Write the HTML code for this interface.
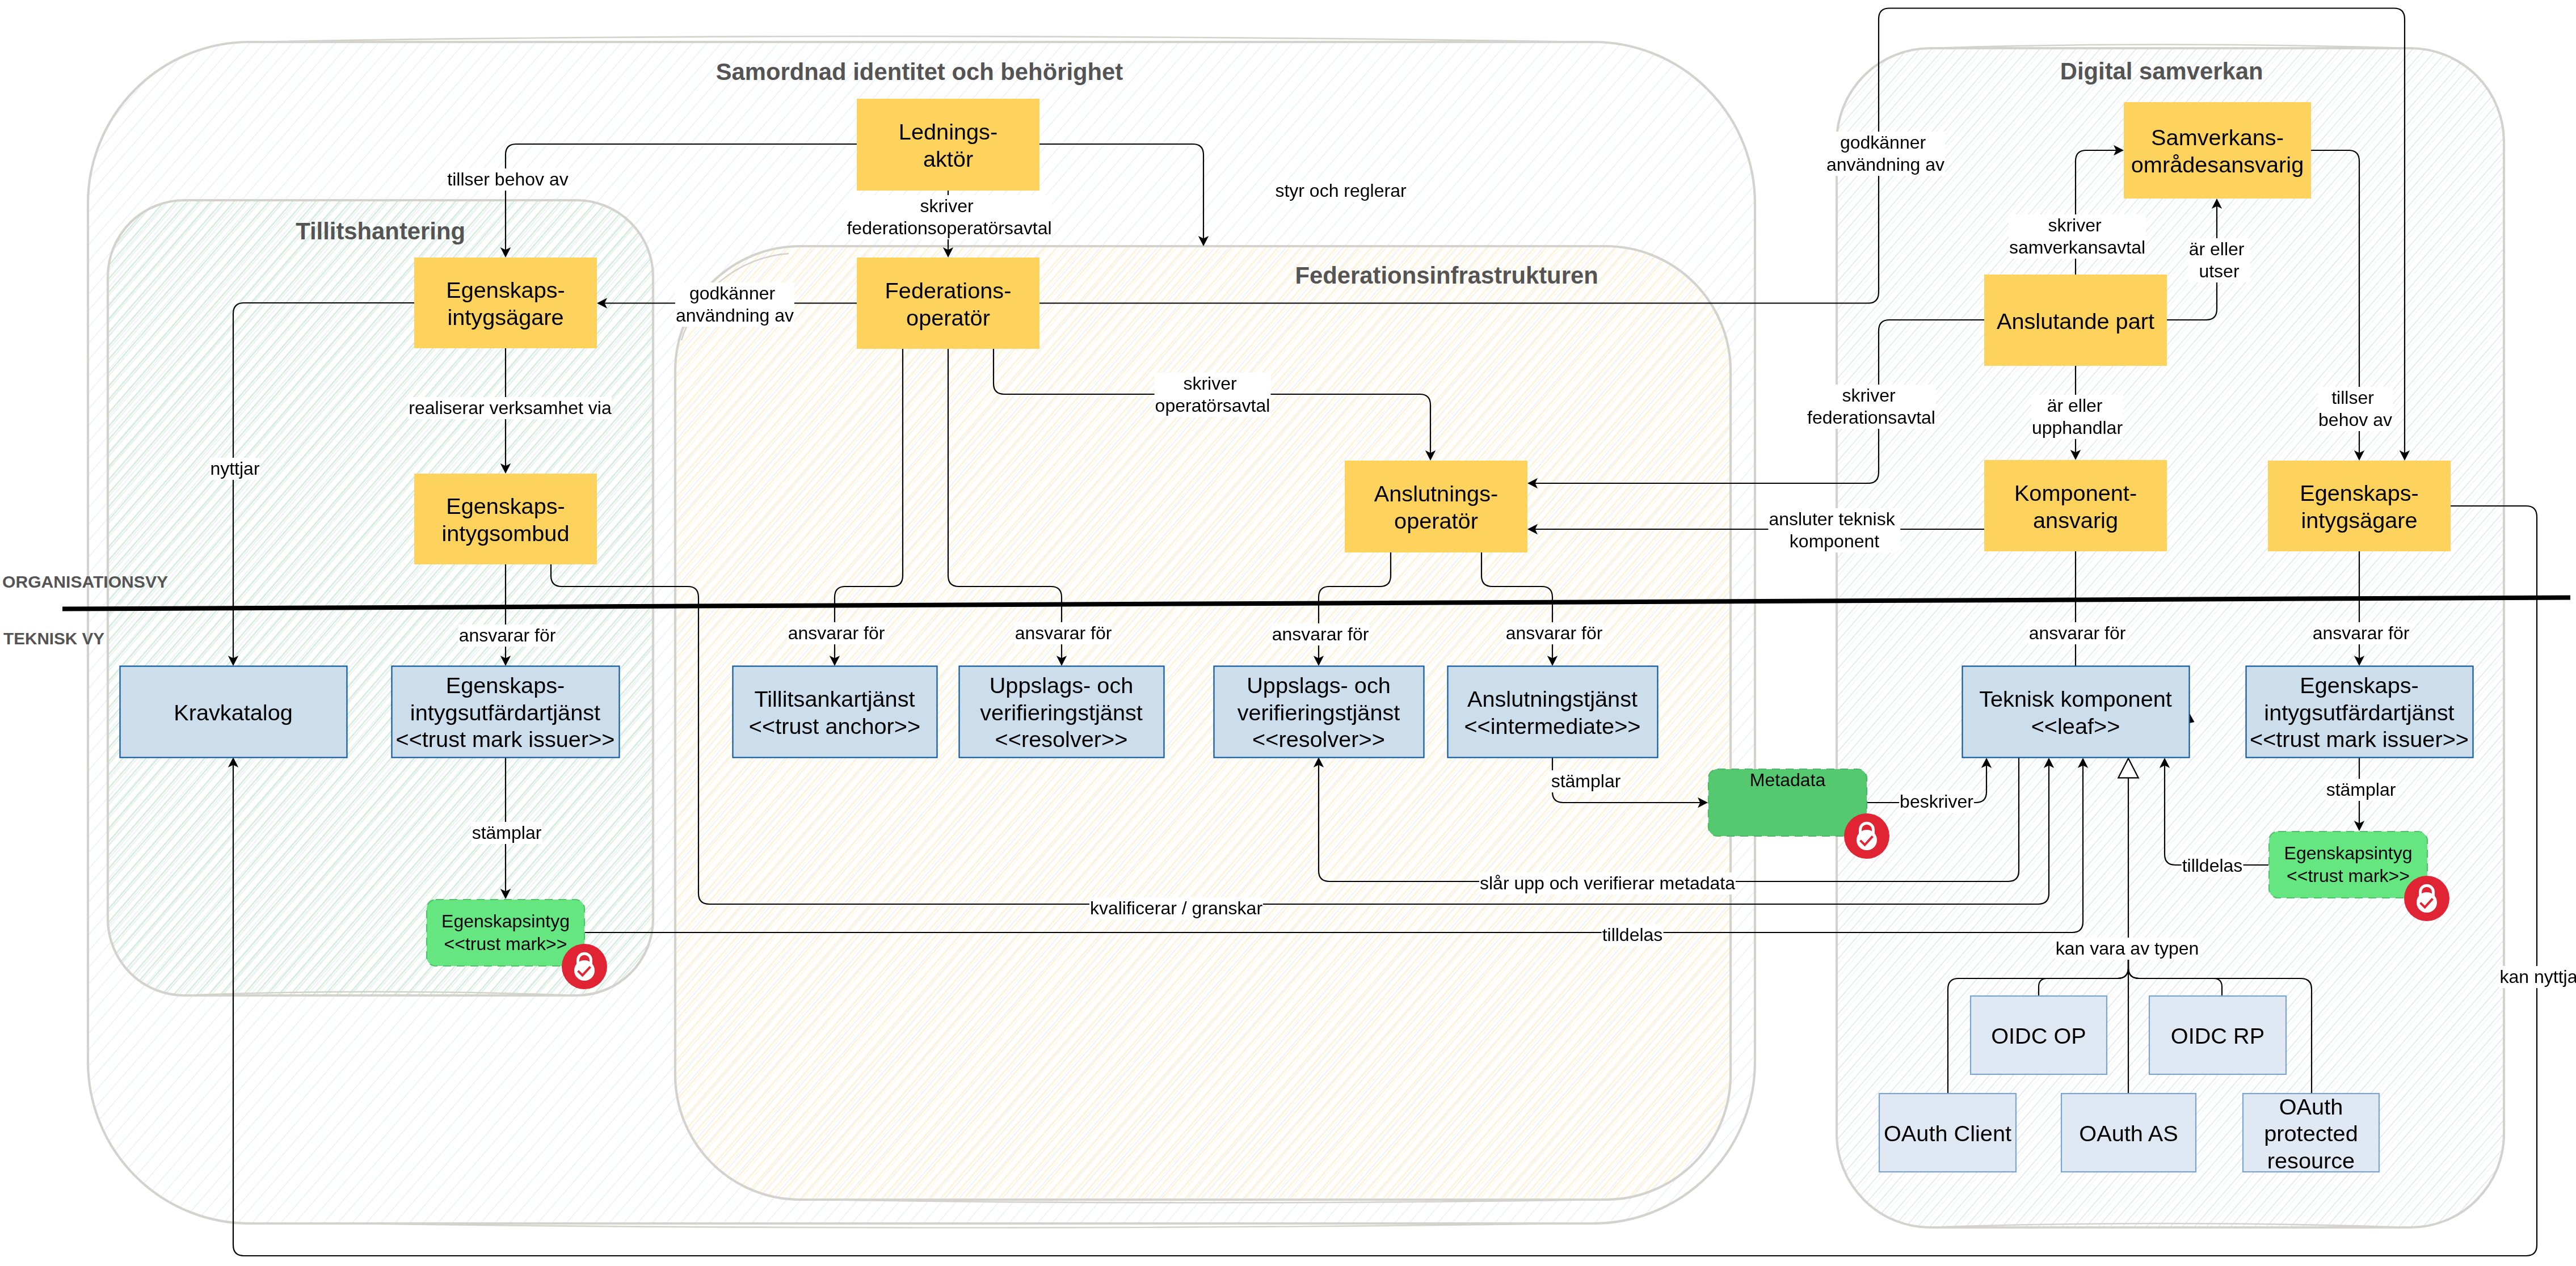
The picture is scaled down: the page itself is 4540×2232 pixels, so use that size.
<!DOCTYPE html>
<html><head><meta charset="utf-8"><style>
html,body{margin:0;padding:0;background:#fff;}
body{width:4540px;height:2232px;position:relative;overflow:hidden;font-family:"Liberation Sans", sans-serif;}
svg{position:absolute;left:0;top:0;}
.bx{position:absolute;text-align:center;color:#000;will-change:transform;}
.lb{position:absolute;transform:translateX(-50%);white-space:nowrap;text-align:center;color:#000;will-change:transform;}
.lb span{display:inline-block;background:#fff;padding:0 1px;}
</style></head><body>
<svg width="4540" height="2232" viewBox="0 0 4540 2232">
<defs><pattern id="hB" patternUnits="userSpaceOnUse" width="19" height="100" patternTransform="rotate(41)"><rect x="1" y="0" width="2.0" height="100" fill="#eef3fb" opacity="1"/><rect x="10" y="0" width="0.01" height="100" fill="#eef3fb" opacity="0.8"/></pattern><pattern id="hG" patternUnits="userSpaceOnUse" width="15.5" height="100" patternTransform="rotate(41)"><rect x="1" y="0" width="2.3" height="100" fill="#d2eadb" opacity="1"/><rect x="5.2" y="0" width="1.3" height="100" fill="#d2eadb" opacity="0.8"/></pattern><pattern id="hY" patternUnits="userSpaceOnUse" width="15.5" height="100" patternTransform="rotate(41)"><rect x="1" y="0" width="2.6" height="100" fill="#fef3d6" opacity="1"/><rect x="6.5" y="0" width="1.4" height="100" fill="#fef3d6" opacity="0.8"/></pattern><pattern id="hD" patternUnits="userSpaceOnUse" width="16" height="100" patternTransform="rotate(41)"><rect x="1" y="0" width="1.6" height="100" fill="#e2e6ed" opacity="1"/><rect x="7.0" y="0" width="0.7" height="100" fill="#e2e6ed" opacity="0.8"/></pattern></defs>
<rect x="155" y="74" width="2938" height="2083" rx="285" ry="285" fill="url(#hB)" stroke="none"/>
<rect x="155" y="74" width="2938" height="2083" rx="285" ry="285" fill="none" stroke="#d3d2cc" stroke-width="4.2"/>
<path d="M440,74 Q1500,54 2800,74" fill="none" stroke="#d3d2cc" stroke-width="2.6"/>
<path d="M600,2157 Q1700,2172 2780,2157" fill="none" stroke="#d3d2cc" stroke-width="2.6"/>
<rect x="3237" y="85" width="1176" height="2079" rx="165" ry="165" fill="url(#hD)" stroke="none"/>
<rect x="3237" y="85" width="1176" height="2079" rx="165" ry="165" fill="none" stroke="#d3d2cc" stroke-width="4.2"/>
<path d="M3400,85 Q3800,72 4250,85" fill="none" stroke="#d3d2cc" stroke-width="2.6"/>
<path d="M3390,2164 Q3800,2150 4250,2164" fill="none" stroke="#d3d2cc" stroke-width="2.6"/>
<rect x="190" y="353" width="961" height="1402" rx="135" ry="135" fill="url(#hG)" stroke="none"/>
<rect x="190" y="353" width="961" height="1402" rx="135" ry="135" fill="none" stroke="#d3d2cc" stroke-width="4.2"/>
<path d="M320,1755 Q650,1742 1020,1755" fill="none" stroke="#d3d2cc" stroke-width="2.6"/>
<rect x="1190" y="434" width="1860" height="1681" rx="220" ry="220" fill="url(#hY)" stroke="none"/>
<rect x="1190" y="434" width="1860" height="1681" rx="220" ry="220" fill="none" stroke="#d3d2cc" stroke-width="4.2"/>
<path d="M1440,2115 Q2100,2126 2830,2115" fill="none" stroke="#d3d2cc" stroke-width="2.6"/>
<path d="M1201,600 A214,214 0 0 1 1390,447" fill="none" stroke="#d3d2cc" stroke-width="2.6"/>
<text x="1620.5" y="141" text-anchor="middle" font-family='"Liberation Sans", sans-serif' font-weight="bold" font-size="41.8" fill="#545454">Samordnad identitet och behörighet</text>
<text x="670.6" y="421.8" text-anchor="middle" font-family='"Liberation Sans", sans-serif' font-weight="bold" font-size="41.8" fill="#545454">Tillitshantering</text>
<text x="2549.6" y="500.3" text-anchor="middle" font-family='"Liberation Sans", sans-serif' font-weight="bold" font-size="41.8" fill="#545454">Federationsinfrastrukturen</text>
<text x="3809.6" y="140.2" text-anchor="middle" font-family='"Liberation Sans", sans-serif' font-weight="bold" font-size="41.8" fill="#545454">Digital samverkan</text>
<text x="4" y="1036" font-family='"Liberation Sans", sans-serif' font-weight="bold" font-size="30.1" fill="#545454">ORGANISATIONSVY</text>
<text x="6" y="1136" font-family='"Liberation Sans", sans-serif' font-weight="bold" font-size="29.7" fill="#545454">TEKNISK VY</text>
<path d="M110,1073.6 L4530,1053.5" stroke="#000" stroke-width="8" fill="none"/>
<path d="M1510,254 L910.0,254.0 Q891,254 891.0,273.0 L891.0,446.0" fill="none" stroke="#000" stroke-width="2.2" stroke-linejoin="round"/>
<path d="M891,454 L881.8,436.0 L891.0,440.4 L900.2,436.0 Z" fill="#000"/>
<path d="M1832,254 L2102.0,254.0 Q2121,254 2121.0,273.0 L2121.0,426.0" fill="none" stroke="#000" stroke-width="2.2" stroke-linejoin="round"/>
<path d="M2121,434 L2111.8,416.0 L2121.0,420.4 L2130.2,416.0 Z" fill="#000"/>
<path d="M1671,336 L1671.0,446.0" fill="none" stroke="#000" stroke-width="2.2" stroke-linejoin="round"/>
<path d="M1671,454 L1661.8,436.0 L1671.0,440.4 L1680.2,436.0 Z" fill="#000"/>
<path d="M1510,534.5 L1060.0,534.5" fill="none" stroke="#000" stroke-width="2.2" stroke-linejoin="round"/>
<path d="M1052,534.5 L1070.0,525.3 L1065.6,534.5 L1070.0,543.7 Z" fill="#000"/>
<path d="M891,614 L891.0,827.0" fill="none" stroke="#000" stroke-width="2.2" stroke-linejoin="round"/>
<path d="M891,835 L881.8,817.0 L891.0,821.4 L900.2,817.0 Z" fill="#000"/>
<path d="M730,534 L430.0,534.0 Q411,534 411.0,553.0 L411.0,1166.0" fill="none" stroke="#000" stroke-width="2.2" stroke-linejoin="round"/>
<path d="M411,1174 L401.8,1156.0 L411.0,1160.4 L420.2,1156.0 Z" fill="#000"/>
<path d="M891,995 L891.0,1166.0" fill="none" stroke="#000" stroke-width="2.2" stroke-linejoin="round"/>
<path d="M891,1174 L881.8,1156.0 L891.0,1160.4 L900.2,1156.0 Z" fill="#000"/>
<path d="M891,1335 L891.0,1577.0" fill="none" stroke="#000" stroke-width="2.2" stroke-linejoin="round"/>
<path d="M891,1585 L881.8,1567.0 L891.0,1571.4 L900.2,1567.0 Z" fill="#000"/>
<path d="M971,995 L971.0,1015.0 Q971,1034 990.0,1034.0 L1212.0,1034.0 Q1231,1034 1231.0,1053.0 L1231.0,1575.0 Q1231,1594 1250.0,1594.0 L3592.0,1594.0 Q3611,1594 3611.0,1575.0 L3611.0,1344.0" fill="none" stroke="#000" stroke-width="2.2" stroke-linejoin="round"/>
<path d="M3611,1336 L3620.2,1354.0 L3611.0,1349.6 L3601.8,1354.0 Z" fill="#000"/>
<path d="M1031,1644 L3652.0,1644.0 Q3671,1644 3671.0,1625.0 L3671.0,1344.0" fill="none" stroke="#000" stroke-width="2.2" stroke-linejoin="round"/>
<path d="M3671,1336 L3680.2,1354.0 L3671.0,1349.6 L3661.8,1354.0 Z" fill="#000"/>
<path d="M4319,892 L4452.0,892.0 Q4471,892 4471.0,911.0 L4471.0,2195.0 Q4471,2214 4452.0,2214.0 L430.0,2214.0 Q411,2214 411.0,2195.0 L411.0,1343.0" fill="none" stroke="#000" stroke-width="2.2" stroke-linejoin="round"/>
<path d="M411,1335 L420.2,1353.0 L411.0,1348.6 L401.8,1353.0 Z" fill="#000"/>
<path d="M1591,615 L1591.0,1015.0 Q1591,1034 1572.0,1034.0 L1490.0,1034.0 Q1471,1034 1471.0,1053.0 L1471.0,1166.0" fill="none" stroke="#000" stroke-width="2.2" stroke-linejoin="round"/>
<path d="M1471,1174 L1461.8,1156.0 L1471.0,1160.4 L1480.2,1156.0 Z" fill="#000"/>
<path d="M1671,615 L1671.0,1015.0 Q1671,1034 1690.0,1034.0 L1852.0,1034.0 Q1871,1034 1871.0,1053.0 L1871.0,1166.0" fill="none" stroke="#000" stroke-width="2.2" stroke-linejoin="round"/>
<path d="M1871,1174 L1861.8,1156.0 L1871.0,1160.4 L1880.2,1156.0 Z" fill="#000"/>
<path d="M1751,615 L1751.0,676.0 Q1751,695 1770.0,695.0 L2502.0,695.0 Q2521,695 2521.0,714.0 L2521.0,804.0" fill="none" stroke="#000" stroke-width="2.2" stroke-linejoin="round"/>
<path d="M2521,812 L2511.8,794.0 L2521.0,798.4 L2530.2,794.0 Z" fill="#000"/>
<path d="M1832,534.5 L3292.0,534.5 Q3311,534.5 3311.0,515.5 L3311.0,33.5 Q3311,14.5 3330.0,14.5 L4219.0,14.5 Q4238,14.5 4238.0,33.5 L4238.0,804.0" fill="none" stroke="#000" stroke-width="2.2" stroke-linejoin="round"/>
<path d="M4238,812 L4228.8,794.0 L4238.0,798.4 L4247.2,794.0 Z" fill="#000"/>
<path d="M2451,974 L2451.0,1015.0 Q2451,1034 2432.0,1034.0 L2343.0,1034.0 Q2324,1034 2324.0,1053.0 L2324.0,1166.0" fill="none" stroke="#000" stroke-width="2.2" stroke-linejoin="round"/>
<path d="M2324,1174 L2314.8,1156.0 L2324.0,1160.4 L2333.2,1156.0 Z" fill="#000"/>
<path d="M2611,974 L2611.0,1015.0 Q2611,1034 2630.0,1034.0 L2717.0,1034.0 Q2736,1034 2736.0,1053.0 L2736.0,1166.0" fill="none" stroke="#000" stroke-width="2.2" stroke-linejoin="round"/>
<path d="M2736,1174 L2726.8,1156.0 L2736.0,1160.4 L2745.2,1156.0 Z" fill="#000"/>
<path d="M2736,1335 L2736.0,1396.0 Q2736,1415 2755.0,1415.0 L3002.0,1415.0" fill="none" stroke="#000" stroke-width="2.2" stroke-linejoin="round"/>
<path d="M3010,1415 L2992.0,1424.2 L2996.4,1415.0 L2992.0,1405.8 Z" fill="#000"/>
<path d="M3291,1415 L3482.0,1415.0 Q3501,1415 3501.0,1396.0 L3501.0,1344.0" fill="none" stroke="#000" stroke-width="2.2" stroke-linejoin="round"/>
<path d="M3501,1336 L3510.2,1354.0 L3501.0,1349.6 L3491.8,1354.0 Z" fill="#000"/>
<path d="M3558,1335 L3558.0,1535.0 Q3558,1554 3539.0,1554.0 L2343.0,1554.0 Q2324,1554 2324.0,1535.0 L2324.0,1343.0" fill="none" stroke="#000" stroke-width="2.2" stroke-linejoin="round"/>
<path d="M2324,1335 L2333.2,1353.0 L2324.0,1348.6 L2314.8,1353.0 Z" fill="#000"/>
<path d="M3658,972 L3658,1174" fill="none" stroke="#000" stroke-width="2.2" stroke-linejoin="round"/>
<path d="M3497,933 L2700.0,933.0" fill="none" stroke="#000" stroke-width="2.2" stroke-linejoin="round"/>
<path d="M2692,933 L2710.0,923.8 L2705.6,933.0 L2710.0,942.2 Z" fill="#000"/>
<path d="M3658,645 L3658.0,803.0" fill="none" stroke="#000" stroke-width="2.2" stroke-linejoin="round"/>
<path d="M3658,811 L3648.8,793.0 L3658.0,797.4 L3667.2,793.0 Z" fill="#000"/>
<path d="M3658,484 L3658.0,284.0 Q3658,265 3677.0,265.0 L3735.0,265.0" fill="none" stroke="#000" stroke-width="2.2" stroke-linejoin="round"/>
<path d="M3743,265 L3725.0,274.2 L3729.4,265.0 L3725.0,255.8 Z" fill="#000"/>
<path d="M3819,564 L3888.0,564.0 Q3907,564 3907.0,545.0 L3907.0,358.0" fill="none" stroke="#000" stroke-width="2.2" stroke-linejoin="round"/>
<path d="M3907,350 L3916.2,368.0 L3907.0,363.6 L3897.8,368.0 Z" fill="#000"/>
<path d="M3497,564 L3330.0,564.0 Q3311,564 3311.0,583.0 L3311.0,833.0 Q3311,852 3292.0,852.0 L2700.0,852.0" fill="none" stroke="#000" stroke-width="2.2" stroke-linejoin="round"/>
<path d="M2692,852 L2710.0,842.8 L2705.6,852.0 L2710.0,861.2 Z" fill="#000"/>
<path d="M4073,265 L4139.0,265.0 Q4158,265 4158.0,284.0 L4158.0,804.0" fill="none" stroke="#000" stroke-width="2.2" stroke-linejoin="round"/>
<path d="M4158,812 L4148.8,794.0 L4158.0,798.4 L4167.2,794.0 Z" fill="#000"/>
<path d="M4158,972 L4158.0,1166.0" fill="none" stroke="#000" stroke-width="2.2" stroke-linejoin="round"/>
<path d="M4158,1174 L4148.8,1156.0 L4158.0,1160.4 L4167.2,1156.0 Z" fill="#000"/>
<path d="M4158,1335 L4158.0,1457.0" fill="none" stroke="#000" stroke-width="2.2" stroke-linejoin="round"/>
<path d="M4158,1465 L4148.8,1447.0 L4158.0,1451.4 L4167.2,1447.0 Z" fill="#000"/>
<path d="M3998,1525 L3834.0,1525.0 Q3815,1525 3815.0,1506.0 L3815.0,1344.0" fill="none" stroke="#000" stroke-width="2.2" stroke-linejoin="round"/>
<path d="M3815,1336 L3824.2,1354.0 L3815.0,1349.6 L3805.8,1354.0 Z" fill="#000"/>
<path d="M3751,1371 L3751,1927" stroke="#000" stroke-width="2.2" fill="none"/>
<path d="M3751,1660 L3751.0,1706.0 Q3751,1725 3732.0,1725.0 L3452.0,1725.0 Q3433,1725 3433.0,1744.0 L3433,1927" fill="none" stroke="#000" stroke-width="2.2" stroke-linejoin="round"/>
<path d="M3751,1660 L3751.0,1706.0 Q3751,1725 3732.0,1725.0 L3608.0,1725.0 Q3593,1725 3593.0,1740.0 L3593,1755" fill="none" stroke="#000" stroke-width="2.2" stroke-linejoin="round"/>
<path d="M3751,1660 L3751.0,1706.0 Q3751,1725 3770.0,1725.0 L3901.0,1725.0 Q3916,1725 3916.0,1740.0 L3916,1755" fill="none" stroke="#000" stroke-width="2.2" stroke-linejoin="round"/>
<path d="M3751,1660 L3751.0,1706.0 Q3751,1725 3770.0,1725.0 L4055.0,1725.0 Q4074,1725 4074.0,1744.0 L4074,1927" fill="none" stroke="#000" stroke-width="2.2" stroke-linejoin="round"/>
<path d="M3751,1337 L3733.3,1371.4 L3768.7,1371.4 Z" fill="#fff" stroke="#000" stroke-width="2.2"/>
<path d="M3858,1256 L3867.5,1273 L3858,1275 Z" fill="#000"/>
<rect x="1510" y="174" width="322" height="162" fill="#fdd35e"/><rect x="1510" y="454" width="322" height="161" fill="#fdd35e"/><rect x="730" y="454" width="322" height="160" fill="#fdd35e"/><rect x="730" y="835" width="322" height="160" fill="#fdd35e"/><rect x="2370" y="812" width="322" height="162" fill="#fdd35e"/><rect x="3743" y="180" width="330" height="170" fill="#fdd35e"/><rect x="3497" y="484" width="322" height="161" fill="#fdd35e"/><rect x="3497" y="811" width="322" height="161" fill="#fdd35e"/><rect x="3997" y="812" width="322" height="160" fill="#fdd35e"/><rect x="211.5" y="1174.5" width="400" height="161" fill="#ccdeec" stroke="#0f5a9e" stroke-width="2.2"/><rect x="690.5" y="1174.5" width="401" height="161" fill="#ccdeec" stroke="#0f5a9e" stroke-width="2.2"/><rect x="1291.5" y="1174.5" width="360" height="161" fill="#ccdeec" stroke="#0f5a9e" stroke-width="2.2"/><rect x="1690.5" y="1174.5" width="361" height="161" fill="#ccdeec" stroke="#0f5a9e" stroke-width="2.2"/><rect x="2139.5" y="1174.5" width="370" height="161" fill="#ccdeec" stroke="#0f5a9e" stroke-width="2.2"/><rect x="2551.5" y="1174.5" width="370" height="161" fill="#ccdeec" stroke="#0f5a9e" stroke-width="2.2"/><rect x="3458.5" y="1174.5" width="400" height="161" fill="#ccdeec" stroke="#0f5a9e" stroke-width="2.2"/><rect x="3958.5" y="1174.5" width="400" height="161" fill="#ccdeec" stroke="#0f5a9e" stroke-width="2.2"/><rect x="3473" y="1756" width="240" height="138" fill="#e0e9f3" stroke="#7aa3cf" stroke-width="2.2"/><rect x="3474" y="1757" width="238" height="136" fill="url(#hD)" opacity="0.5"/><rect x="3788" y="1756" width="241" height="138" fill="#e0e9f3" stroke="#7aa3cf" stroke-width="2.2"/><rect x="3789" y="1757" width="239" height="136" fill="url(#hD)" opacity="0.5"/><rect x="3312" y="1928" width="241" height="138" fill="#e0e9f3" stroke="#7aa3cf" stroke-width="2.2"/><rect x="3313" y="1929" width="239" height="136" fill="url(#hD)" opacity="0.5"/><rect x="3633" y="1928" width="237" height="138" fill="#e0e9f3" stroke="#7aa3cf" stroke-width="2.2"/><rect x="3634" y="1929" width="235" height="136" fill="url(#hD)" opacity="0.5"/><rect x="3953" y="1928" width="240" height="138" fill="#e0e9f3" stroke="#7aa3cf" stroke-width="2.2"/><rect x="3954" y="1929" width="238" height="136" fill="url(#hD)" opacity="0.5"/><rect x="752" y="1586" width="278" height="117" rx="16" fill="#65e681" stroke="#4fc36a" stroke-width="2.2" stroke-dasharray="14 10"/><rect x="3999" y="1466" width="279" height="117" rx="16" fill="#65e681" stroke="#4fc36a" stroke-width="2.2" stroke-dasharray="14 10"/><rect x="3011" y="1356" width="279" height="118" rx="16" fill="#55c970" stroke="#4ab865" stroke-width="2.2" stroke-dasharray="14 10"/>
<g transform="translate(1030,1704)"><circle r="40" fill="#e02433"/><path d="M-11.5,-4 V-11.3 A11.5,11.5 0 0 1 11.5,-11.3 V-4" fill="none" stroke="#fff" stroke-width="5"/><circle cx="0" cy="7" r="18" fill="#fff"/><path d="M-11.4,7.7 L-3.5,15.5 L10.4,0.3" fill="none" stroke="#e02433" stroke-width="4"/></g>
<g transform="translate(3290,1474)"><circle r="40" fill="#e02433"/><path d="M-11.5,-4 V-11.3 A11.5,11.5 0 0 1 11.5,-11.3 V-4" fill="none" stroke="#fff" stroke-width="5"/><circle cx="0" cy="7" r="18" fill="#fff"/><path d="M-11.4,7.7 L-3.5,15.5 L10.4,0.3" fill="none" stroke="#e02433" stroke-width="4"/></g>
<g transform="translate(4277,1584)"><circle r="40" fill="#e02433"/><path d="M-11.5,-4 V-11.3 A11.5,11.5 0 0 1 11.5,-11.3 V-4" fill="none" stroke="#fff" stroke-width="5"/><circle cx="0" cy="7" r="18" fill="#fff"/><path d="M-11.4,7.7 L-3.5,15.5 L10.4,0.3" fill="none" stroke="#e02433" stroke-width="4"/></g>
</svg>
<div class="bx" style="left:1510px;top:176px;width:322px;height:162px;font-size:39.7px;line-height:47.64px;display:flex;align-items:center;justify-content:center;"><div>Lednings-<br>aktör</div></div>
<div class="bx" style="left:1510px;top:456px;width:322px;height:161px;font-size:39.7px;line-height:47.64px;display:flex;align-items:center;justify-content:center;"><div>Federations-<br>operatör</div></div>
<div class="bx" style="left:730px;top:456px;width:322px;height:160px;font-size:39.7px;line-height:47.64px;display:flex;align-items:center;justify-content:center;"><div>Egenskaps-<br>intygsägare</div></div>
<div class="bx" style="left:730px;top:837px;width:322px;height:160px;font-size:39.7px;line-height:47.64px;display:flex;align-items:center;justify-content:center;"><div>Egenskaps-<br>intygsombud</div></div>
<div class="bx" style="left:2370px;top:814px;width:322px;height:162px;font-size:39.7px;line-height:47.64px;display:flex;align-items:center;justify-content:center;"><div>Anslutnings-<br>operatör</div></div>
<div class="bx" style="left:3743px;top:182px;width:330px;height:170px;font-size:39.7px;line-height:47.64px;display:flex;align-items:center;justify-content:center;"><div>Samverkans-<br>områdesansvarig</div></div>
<div class="bx" style="left:3497px;top:486px;width:322px;height:161px;font-size:39.7px;line-height:47.64px;display:flex;align-items:center;justify-content:center;"><div>Anslutande part</div></div>
<div class="bx" style="left:3497px;top:813px;width:322px;height:161px;font-size:39.7px;line-height:47.64px;display:flex;align-items:center;justify-content:center;"><div>Komponent-<br>ansvarig</div></div>
<div class="bx" style="left:3997px;top:814px;width:322px;height:160px;font-size:39.7px;line-height:47.64px;display:flex;align-items:center;justify-content:center;"><div>Egenskaps-<br>intygsägare</div></div>
<div class="bx" style="left:211px;top:1176px;width:400px;height:161px;font-size:39.7px;line-height:47.64px;display:flex;align-items:center;justify-content:center;"><div>Kravkatalog</div></div>
<div class="bx" style="left:690px;top:1176px;width:401px;height:161px;font-size:39.7px;line-height:47.64px;display:flex;align-items:center;justify-content:center;"><div>Egenskaps-<br>intygsutfärdartjänst<br>&lt;&lt;trust mark issuer&gt;&gt;</div></div>
<div class="bx" style="left:1291px;top:1176px;width:360px;height:161px;font-size:39.7px;line-height:47.64px;display:flex;align-items:center;justify-content:center;"><div>Tillitsankartjänst<br>&lt;&lt;trust anchor&gt;&gt;</div></div>
<div class="bx" style="left:1690px;top:1176px;width:361px;height:161px;font-size:39.7px;line-height:47.64px;display:flex;align-items:center;justify-content:center;"><div>Uppslags- och<br>verifieringstjänst<br>&lt;&lt;resolver&gt;&gt;</div></div>
<div class="bx" style="left:2139px;top:1176px;width:370px;height:161px;font-size:39.7px;line-height:47.64px;display:flex;align-items:center;justify-content:center;"><div>Uppslags- och<br>verifieringstjänst<br>&lt;&lt;resolver&gt;&gt;</div></div>
<div class="bx" style="left:2551px;top:1176px;width:370px;height:161px;font-size:39.7px;line-height:47.64px;display:flex;align-items:center;justify-content:center;"><div>Anslutningstjänst<br>&lt;&lt;intermediate&gt;&gt;</div></div>
<div class="bx" style="left:3458px;top:1176px;width:400px;height:161px;font-size:39.7px;line-height:47.64px;display:flex;align-items:center;justify-content:center;"><div>Teknisk komponent<br>&lt;&lt;leaf&gt;&gt;</div></div>
<div class="bx" style="left:3958px;top:1176px;width:400px;height:161px;font-size:39.7px;line-height:47.64px;display:flex;align-items:center;justify-content:center;"><div>Egenskaps-<br>intygsutfärdartjänst<br>&lt;&lt;trust mark issuer&gt;&gt;</div></div>
<div class="bx" style="left:3472px;top:1757px;width:242px;height:140px;font-size:39.7px;line-height:47.64px;display:flex;align-items:center;justify-content:center;"><div>OIDC OP</div></div>
<div class="bx" style="left:3787px;top:1757px;width:243px;height:140px;font-size:39.7px;line-height:47.64px;display:flex;align-items:center;justify-content:center;"><div>OIDC RP</div></div>
<div class="bx" style="left:3311px;top:1929px;width:243px;height:140px;font-size:39.7px;line-height:47.64px;display:flex;align-items:center;justify-content:center;"><div>OAuth Client</div></div>
<div class="bx" style="left:3632px;top:1929px;width:239px;height:140px;font-size:39.7px;line-height:47.64px;display:flex;align-items:center;justify-content:center;"><div>OAuth AS</div></div>
<div class="bx" style="left:3952px;top:1929px;width:242px;height:140px;font-size:39.7px;line-height:47.64px;display:flex;align-items:center;justify-content:center;"><div>OAuth<br>protected<br>resource</div></div>
<div class="bx" style="left:751px;top:1585px;width:280px;height:119px;font-size:32px;line-height:39.2px;display:flex;align-items:center;justify-content:center;"><div>Egenskapsintyg<br>&lt;&lt;trust mark&gt;&gt;</div></div>
<div class="bx" style="left:3998px;top:1465px;width:281px;height:119px;font-size:32px;line-height:39.2px;display:flex;align-items:center;justify-content:center;"><div>Egenskapsintyg<br>&lt;&lt;trust mark&gt;&gt;</div></div>
<div class="bx" style="left:3010px;top:1356px;width:281px;height:120px;font-size:32px;line-height:39.2px;display:flex;align-items:flex-start;justify-content:center;"><div>Metadata</div></div>
<div class="lb" style="left:895px;top:297.4px;font-size:32px;line-height:39.1px;"><span>tillser behov av</span></div>
<div class="lb" style="left:2363.4px;top:317.1px;font-size:32px;line-height:39.1px;"><span>styr och reglerar</span></div>
<div class="lb" style="left:1672.5px;top:343.7px;font-size:32px;line-height:39.1px;"><span>skriver&nbsp;<br>federationsoperatörsavtal</span></div>
<div class="lb" style="left:1295px;top:497.7px;font-size:32px;line-height:39.1px;"><span>godkänner&nbsp;<br>användning av</span></div>
<div class="lb" style="left:899px;top:699.5px;font-size:32px;line-height:39.1px;"><span>realiserar verksamhet via</span></div>
<div class="lb" style="left:413.8px;top:807.0px;font-size:32px;line-height:39.1px;"><span>nyttjar</span></div>
<div class="lb" style="left:894px;top:1101.2px;font-size:32px;line-height:39.1px;"><span>ansvarar för</span></div>
<div class="lb" style="left:892.7px;top:1449.2px;font-size:32px;line-height:39.1px;"><span>stämplar</span></div>
<div class="lb" style="left:2072.9px;top:1581.5px;font-size:32px;line-height:39.1px;"><span>kvalificerar / granskar</span></div>
<div class="lb" style="left:2876.9px;top:1629.4px;font-size:32px;line-height:39.1px;"><span>tilldelas</span></div>
<div class="lb" style="left:4474px;top:1703.2px;font-size:32px;line-height:39.1px;"><span>kan nyttja</span></div>
<div class="lb" style="left:1473.5px;top:1097.2px;font-size:32px;line-height:39.1px;"><span>ansvarar för</span></div>
<div class="lb" style="left:1873.5px;top:1097.2px;font-size:32px;line-height:39.1px;"><span>ansvarar för</span></div>
<div class="lb" style="left:2137px;top:657.4px;font-size:32px;line-height:39.1px;"><span>skriver&nbsp;<br>operatörsavtal</span></div>
<div class="lb" style="left:3323px;top:231.8px;font-size:32px;line-height:39.1px;"><span>godkänner&nbsp;<br>användning av</span></div>
<div class="lb" style="left:2327px;top:1099.2px;font-size:32px;line-height:39.1px;"><span>ansvarar för</span></div>
<div class="lb" style="left:2739px;top:1097.2px;font-size:32px;line-height:39.1px;"><span>ansvarar för</span></div>
<div class="lb" style="left:2795.4px;top:1357.5px;font-size:32px;line-height:39.1px;"><span>stämplar</span></div>
<div class="lb" style="left:3413.2px;top:1393.5px;font-size:32px;line-height:39.1px;"><span>beskriver</span></div>
<div class="lb" style="left:2833px;top:1537.5px;font-size:32px;line-height:39.1px;"><span>slår upp och verifierar metadata</span></div>
<div class="lb" style="left:3661px;top:1097.2px;font-size:32px;line-height:39.1px;"><span>ansvarar för</span></div>
<div class="lb" style="left:3232.5px;top:895.9px;font-size:32px;line-height:39.1px;"><span>ansluter teknisk&nbsp;<br>komponent</span></div>
<div class="lb" style="left:3660.9px;top:695.8px;font-size:32px;line-height:39.1px;"><span>är eller&nbsp;<br>upphandlar</span></div>
<div class="lb" style="left:3660.6px;top:377.9px;font-size:32px;line-height:39.1px;"><span>skriver&nbsp;<br>samverkansavtal</span></div>
<div class="lb" style="left:3911px;top:419.8px;font-size:32px;line-height:39.1px;"><span>är eller&nbsp;<br>utser</span></div>
<div class="lb" style="left:3298.3px;top:677.7px;font-size:32px;line-height:39.1px;"><span>skriver&nbsp;<br>federationsavtal</span></div>
<div class="lb" style="left:4151.1px;top:681.7px;font-size:32px;line-height:39.1px;"><span>tillser&nbsp;<br>behov av</span></div>
<div class="lb" style="left:4161px;top:1097.2px;font-size:32px;line-height:39.1px;"><span>ansvarar för</span></div>
<div class="lb" style="left:4161px;top:1373.2px;font-size:32px;line-height:39.1px;"><span>stämplar</span></div>
<div class="lb" style="left:3899px;top:1507.4px;font-size:32px;line-height:39.1px;"><span>tilldelas</span></div>
<div class="lb" style="left:3749px;top:1653.2px;font-size:32px;line-height:39.1px;"><span>kan vara av typen</span></div>
</body></html>
